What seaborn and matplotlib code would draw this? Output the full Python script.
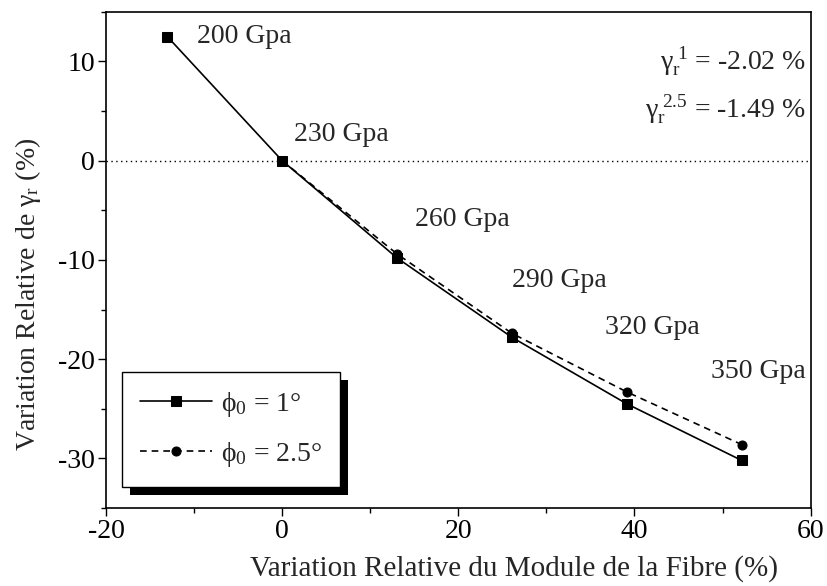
import matplotlib
matplotlib.use("Agg")
import matplotlib.pyplot as plt
from matplotlib.patches import Rectangle
from matplotlib.ticker import MultipleLocator
import seaborn as sns
import pandas as pd

# Fibre modulus (GPa) and relative variation of gamma_r (%)
modules = [200, 230, 260, 290, 320, 350]
x_rel = [-13.04, 0.0, 13.04, 26.09, 39.13, 52.17]
gamma_phi1 = [12.5, 0.0, -9.8, -17.8, -24.5, -30.2]
x_rel_phi25 = [0.0, 13.04, 26.09, 39.13, 52.17]
gamma_phi25 = [0.0, -9.4, -17.4, -23.3, -28.6]
module_labels = ["200 Gpa", "230 Gpa", "260 Gpa", "290 Gpa", "320 Gpa", "350 Gpa"]
label_pos = [(-9.7, 12.5), (1.4, 2.6), (15.1, -5.9), (26.1, -12.1), (36.6, -16.8), (48.7, -21.2)]

sns.set_theme(style="ticks")
plt.rcParams["font.family"] = ["Liberation Serif", "DejaVu Serif"]
plt.rcParams["mathtext.fontset"] = "custom"
plt.rcParams["mathtext.rm"] = "Liberation Serif"
plt.rcParams["mathtext.it"] = "Liberation Serif:italic"
plt.rcParams["mathtext.bf"] = "Liberation Serif:bold"
plt.rcParams["axes.unicode_minus"] = False

FS = 20

df1 = pd.DataFrame({"x": x_rel, "y": gamma_phi1})
df2 = pd.DataFrame({"x": x_rel_phi25, "y": gamma_phi25})

fig = plt.figure(figsize=(8.28, 5.86), dpi=100)
ax = fig.add_axes([0.128, 0.133, 0.851, 0.847])

ax.axhline(0, color="black", lw=1.0, ls=(0, (1, 2.5)), zorder=1)
sns.lineplot(data=df1, x="x", y="y", ax=ax, color="black", lw=1.2,
             marker="s", markersize=6.5, markeredgecolor="black",
             label=r"$\mathrm{\phi}_0$ = 1°")
sns.lineplot(data=df2, x="x", y="y", ax=ax, color="black", lw=1.2,
             ls=(0, (4, 3)), marker="o", markersize=6.5,
             markeredgecolor="black", label=r"$\mathrm{\phi}_0$ = 2.5°")

for txt, (tx, ty) in zip(module_labels, label_pos):
    ax.text(tx, ty, txt, fontsize=FS, ha="left", va="center")

ax.text(0.993, 0.899, r"$\mathrm{\gamma}_\mathrm{r}^{\ 1}$ = -2.02 %", transform=ax.transAxes,
        fontsize=FS, ha="right", va="center")
ax.text(0.993, 0.802, r"$\mathrm{\gamma}_\mathrm{r}^{\ 2.5}$ = -1.49 %", transform=ax.transAxes,
        fontsize=FS, ha="right", va="center")

ax.set_xlim(-20, 60)
ax.set_ylim(-35, 15)
ax.xaxis.set_major_locator(MultipleLocator(20))
ax.xaxis.set_minor_locator(MultipleLocator(10))
ax.yaxis.set_major_locator(MultipleLocator(10))
ax.yaxis.set_minor_locator(MultipleLocator(5))
ax.tick_params(which="major", direction="out", length=6, width=1, labelsize=FS,
               color="black", labelcolor="black", pad=2)
ax.tick_params(which="minor", direction="out", length=3.5, width=1, color="black")
for s in ax.spines.values():
    s.set_visible(True)
    s.set_color("black")
    s.set_linewidth(1.2)

ax.set_xlabel("Variation Relative du Module de la Fibre (%)", fontsize=21)
ax.set_ylabel(r"Variation Relative de $\mathrm{\gamma}_\mathrm{r}$ (%)", fontsize=FS)
ax.xaxis.set_label_coords(0.579, -0.095)
ax.yaxis.set_label_coords(-0.09, 0.43)

leg = ax.legend(loc="upper left", bbox_to_anchor=(0.023, 0.274), borderaxespad=0,
                fontsize=FS, handlelength=2.6, handletextpad=0.3, frameon=True,
                fancybox=False, edgecolor="black", framealpha=1, borderpad=0.65,
                labelspacing=0.75)
leg.get_frame().set_linewidth(1.0)
leg.set_zorder(5)

# black drop shadow below the legend box
fig.canvas.draw()
bb = leg.get_window_extent().transformed(ax.transAxes.inverted())
dx = 8 / (0.851 * 828)
dy = 8 / (0.847 * 586)
shadow = Rectangle((bb.x0 + dx, bb.y0 - dy), bb.width, bb.height,
                   transform=ax.transAxes, facecolor="black", edgecolor="none",
                   zorder=4, clip_on=False)
ax.add_patch(shadow)

fig.savefig("out.png", dpi=100)
